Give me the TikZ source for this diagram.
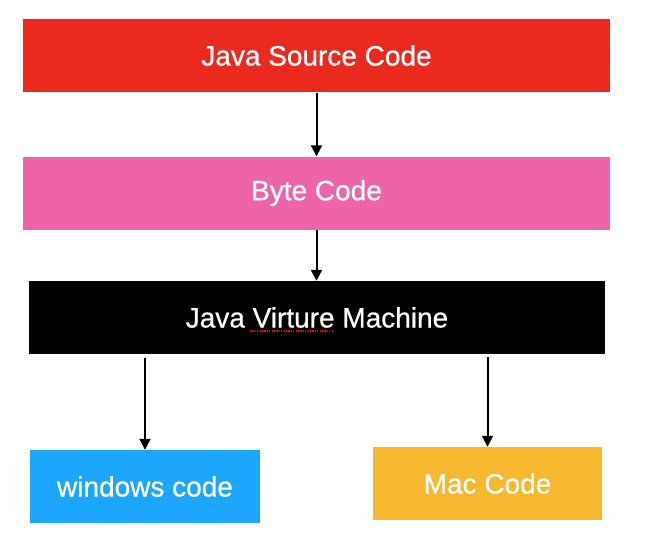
\documentclass[tikz,border=0pt]{standalone}
\usepackage{fontspec}
\setmainfont{Liberation Sans}[FakeBold=0.6]
\usetikzlibrary{arrows.meta}
\definecolor{cred}{HTML}{EA2A1F}
\definecolor{cpink}{HTML}{ED64A8}
\definecolor{cblue}{HTML}{1DA6FD}
\definecolor{cyellow}{HTML}{F5B82E}
\tikzset{
  box/.style={draw=none, minimum height=73pt, inner sep=0pt, text=white, font=\fontsize{28}{33}\selectfont},
  arr/.style={draw=black, line width=2pt, -{Triangle[length=11pt,width=11pt]}},
}
\begin{document}
\begin{tikzpicture}[x=1pt,y=-1pt]
\useasboundingbox (0,0) rectangle (645,552);
\fill[white] (0,0) rectangle (645,552);
\node[box, fill=cred, minimum width=587pt] (src) at (316.5,55.5) {Java Source Code};
\node[box, fill=cpink, minimum width=587pt] (byte) at (316.5,193) {Byte Code};
\node[box, fill=black, minimum width=576pt] (jvm) at (317,317.5) {Java Virture Machine};
\node[box, fill=cblue, minimum width=230pt] (win) at (145,486.5) {windows code};
\node[box, fill=cyellow, minimum width=229pt] (mac) at (487.5,483.5) {Mac Code};
\draw[arr, shorten <=1pt] (src) -- (byte);
\draw[arr] (byte.south) -- (byte.south |- jvm.north);
\draw[arr, shorten <=4pt] (win.north |- jvm.south) -- (win.north);
\draw[arr, shorten <=3pt] (mac.north |- jvm.south) -- (mac.north);
\draw[red, line width=1.2pt, dash pattern=on 1.2pt off 1.2pt] (250,331) -- (333,331);
\end{tikzpicture}
\end{document}
